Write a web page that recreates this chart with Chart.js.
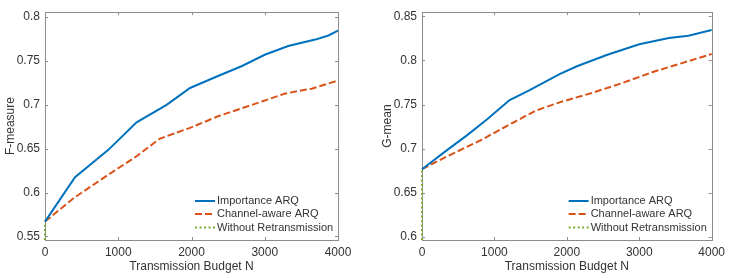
<!DOCTYPE html>
<html>
<head>
<meta charset="utf-8">
<script src="https://cdn.jsdelivr.net/npm/chart.js@4/dist/chart.umd.min.js"></script>
<style>
    html, body { margin: 0; padding: 0; background: #fff; }
    .panel { position: absolute; top: 0; width: 365px; height: 278px; }
</style>
</head>
<body>
<div class="panel" style="left:0"><canvas id="fChart" width="365" height="278"></canvas></div>
<div class="panel" style="left:365px"><canvas id="gChart" width="365" height="278"></canvas></div>
<script>
// Shared x axis
const xTicks = [0, 1000, 2000, 3000, 4000];
const seriesLabels = ['Importance ARQ', 'Channel-aware ARQ', 'Without Retransmission'];

// Left panel: F-measure
const fTicks = [0.55, 0.6, 0.65, 0.7, 0.75, 0.8];
const fImpN = [0, 410, 865, 1250, 1660, 1980, 2370, 2690, 3000, 3320, 3690, 3870, 4000];
const fImpV = [0.567, 0.6175, 0.6487, 0.680, 0.700, 0.7192, 0.7331, 0.7442, 0.757, 0.767, 0.7743, 0.779, 0.7846];
const fChN = [0, 390, 840, 1250, 1570, 1980, 2370, 2960, 3280, 3640, 4000];
const fChV = [0.567, 0.5936, 0.6191, 0.6414, 0.6616, 0.6737, 0.6872, 0.7037, 0.7129, 0.7184, 0.7276];
const fWrN = [0, 0];
const fWrV = [0.546, 0.567];

// Right panel: G-mean
const gTicks = [0.6, 0.65, 0.7, 0.75, 0.8, 0.85];
const gImpN = [0, 350, 620, 900, 1210, 1480, 1900, 2140, 2550, 3000, 3410, 3680, 4000];
const gImpV = [0.6767, 0.6986, 0.715, 0.7333, 0.7551, 0.7661, 0.7845, 0.7934, 0.8062, 0.8183, 0.8255, 0.8281, 0.8345];
const gChN = [0, 350, 810, 1260, 1570, 1900, 2320, 2770, 3230, 3590, 4000];
const gChV = [0.6767, 0.6914, 0.7095, 0.7296, 0.7431, 0.7525, 0.7625, 0.7745, 0.788, 0.797, 0.8073];
const gWrN = [0, 0];
const gWrV = [0.5964, 0.6767];

const COLORS = ['#0072BD', '#D95319', '#77AC30'];
const DASHES = [[], [7, 3], [2, 2.5]];
const FONT = '"Liberation Sans", Arial, Helvetica, sans-serif';
const TEXT = '#333333';
const AXIS = '#8c8c8c';

function toPoints(xs, ys) {
    return xs.map((x, i) => ({ x: x, y: ys[i] }));
}

// MATLAB style box with inward ticks on all sides, drawn under the data
const framePlugin = {
    id: 'frame',
    beforeDatasetsDraw(chart) {
        const { ctx, chartArea: a, scales } = chart;
        const len = 3;
        ctx.save();
        ctx.strokeStyle = AXIS;
        ctx.lineWidth = 1;
        ctx.beginPath();
        scales.x.ticks.forEach(t => {
            const px = Math.round(scales.x.getPixelForValue(t.value)) + 0.5;
            ctx.moveTo(px, a.bottom); ctx.lineTo(px, a.bottom - len);
            ctx.moveTo(px, a.top); ctx.lineTo(px, a.top + len);
        });
        scales.y.ticks.forEach(t => {
            const py = Math.round(scales.y.getPixelForValue(t.value)) + 0.5;
            ctx.moveTo(a.left, py); ctx.lineTo(a.left + len, py);
            ctx.moveTo(a.right, py); ctx.lineTo(a.right - len, py);
        });
        ctx.stroke();
        ctx.strokeRect(Math.round(a.left) + 0.5, Math.round(a.top) + 0.5,
            Math.round(a.right - a.left), Math.round(a.bottom - a.top));
        ctx.restore();
    },
    afterDraw(chart) {
        // legend inside the lower right corner, no box
        const { ctx, chartArea: a } = chart;
        const rows = [-39, -26, -12.5];
        ctx.save();
        ctx.font = '11px ' + FONT;
        ctx.textBaseline = 'middle';
        ctx.fillStyle = TEXT;
        chart.data.datasets.forEach((ds, i) => {
            const y = a.bottom + rows[i];
            ctx.strokeStyle = ds.borderColor;
            ctx.lineWidth = 2;
            ctx.setLineDash(ds.borderDash);
            ctx.beginPath();
            ctx.moveTo(a.right - 143, y);
            ctx.lineTo(a.right - 123, y);
            ctx.stroke();
            ctx.setLineDash([]);
            ctx.fillText(ds.label, a.right - 121, y);
        });
        ctx.restore();
    }
};

function makeChart(id, cfg) {
    const datasets = [
        toPoints(cfg.impN, cfg.impV),
        toPoints(cfg.chN, cfg.chV),
        toPoints(cfg.wrN, cfg.wrV),
    ].map((data, i) => ({
        label: seriesLabels[i],
        data: data,
        borderColor: COLORS[i],
        borderWidth: 2,
        borderDash: DASHES[i],
        pointRadius: 0,
        tension: 0,
        fill: false,
        clip: { left: 3, right: 3, top: 0, bottom: 0 },
    }));

    return new Chart(document.getElementById(id), {
        type: 'line',
        data: { datasets: datasets },
        options: {
            responsive: false,
            animation: false,
            devicePixelRatio: 1,
            layout: { padding: { left: 0, right: cfg.padRight, top: 4, bottom: 0 } },
            plugins: { legend: { display: false }, tooltip: { enabled: false } },
            scales: {
                x: {
                    type: 'linear',
                    min: 0,
                    max: 4000,
                    afterBuildTicks: s => { s.ticks = xTicks.map(v => ({ value: v })); },
                    afterFit: s => { s.height = 38; },
                    grid: { display: false, drawTicks: false },
                    border: { display: false },
                    ticks: {
                        color: TEXT, font: { family: FONT, size: 12 },
                        padding: 5, maxRotation: 0, autoSkip: false,
                        callback: v => String(v),
                    },
                    title: {
                        display: true, text: 'Transmission Budget N', color: TEXT,
                        font: { family: FONT, size: 12 }, padding: { top: 0, bottom: 4 },
                    },
                },
                y: {
                    type: 'linear',
                    min: cfg.yMin,
                    max: cfg.yMax,
                    afterBuildTicks: s => { s.ticks = cfg.ticks.map(v => ({ value: v })); },
                    afterFit: s => { s.width = cfg.yWidth; },
                    grid: { display: false, drawTicks: false },
                    border: { display: false },
                    ticks: {
                        color: TEXT, font: { family: FONT, size: 12 }, padding: 5,
                        autoSkip: false,
                        callback: v => String(Math.round(v * 100) / 100),
                    },
                    title: {
                        display: true, text: cfg.yTitle, color: TEXT,
                        font: { family: FONT, size: 12 }, padding: { top: cfg.titlePad, bottom: 0 },
                    },
                },
            },
        },
        plugins: [framePlugin],
    });
}

makeChart('fChart', {
    impN: fImpN, impV: fImpV, chN: fChN, chV: fChV, wrN: fWrN, wrV: fWrV,
    ticks: fTicks, yMin: 0.546, yMax: 0.8055, yTitle: 'F-measure',
    yWidth: 45, padRight: 27, titlePad: 3,
});

makeChart('gChart', {
    impN: gImpN, impV: gImpV, chN: gChN, chV: gChV, wrN: gWrN, wrV: gWrV,
    ticks: gTicks, yMin: 0.5964, yMax: 0.8547, yTitle: 'G-mean',
    yWidth: 57, padRight: 13, titlePad: 15,
});
</script>
</body>
</html>
